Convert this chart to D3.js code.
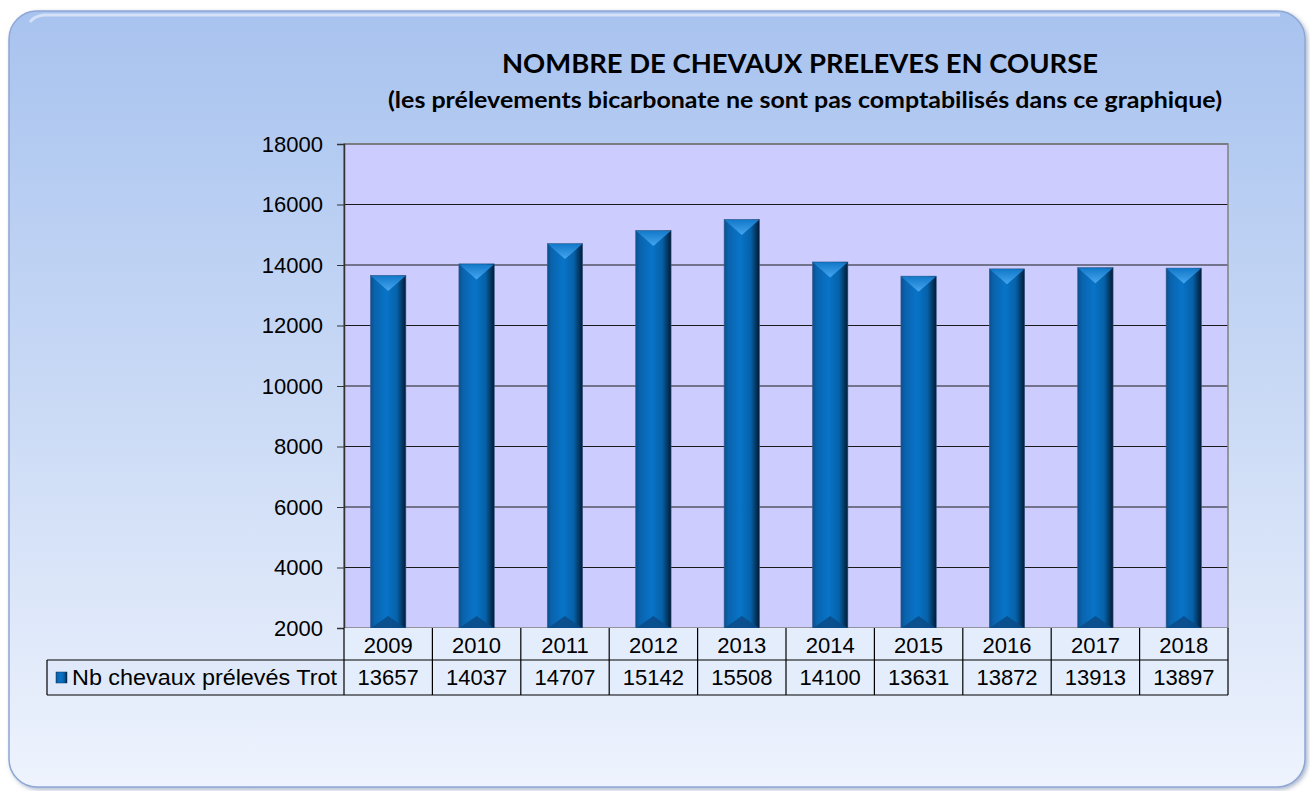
<!DOCTYPE html>
<html>
<head>
<meta charset="utf-8">
<script src="https://cdn.jsdelivr.net/npm/d3@7"></script>
<style>
  body { margin: 0; background: #fff; }
</style>
</head>
<body>
<svg id="chart"></svg>
<script>
var years = ['2009', '2010', '2011', '2012', '2013', '2014', '2015', '2016', '2017', '2018'];
var values = [13657, 14037, 14707, 15142, 15508, 14100, 13631, 13872, 13913, 13897];
var yTicks = [2000, 4000, 6000, 8000, 10000, 12000, 14000, 16000, 18000];
var seriesName = 'Nb chevaux prélevés Trot';

var W = 1310, H = 791;
var plot = {left: 344, right: 1228, top: 144, bottom: 628};
var font = 'Liberation Sans, Arial, sans-serif';

var svg = d3.select('#chart').attr('width', W).attr('height', H);
var defs = svg.append('defs');

// panel gradient
var pg = defs.append('linearGradient').attr('id', 'panel').attr('x1', 0).attr('y1', 0).attr('x2', 0).attr('y2', 1);
pg.append('stop').attr('offset', '0%').attr('stop-color', '#a8c3ef');
pg.append('stop').attr('offset', '55%').attr('stop-color', '#cddcf6');
pg.append('stop').attr('offset', '100%').attr('stop-color', '#eef3fd');

// bar gradient (cylinder-ish)
var bg = defs.append('linearGradient').attr('id', 'bar').attr('x1', 0).attr('y1', 0).attr('x2', 1).attr('y2', 0);
bg.append('stop').attr('offset', '0%').attr('stop-color', '#0b4f8c');
bg.append('stop').attr('offset', '12%').attr('stop-color', '#0a63ad');
bg.append('stop').attr('offset', '45%').attr('stop-color', '#0874c8');
bg.append('stop').attr('offset', '75%').attr('stop-color', '#0661a8');
bg.append('stop').attr('offset', '100%').attr('stop-color', '#021a33');

var cap = defs.append('linearGradient').attr('id', 'cap').attr('x1', 0).attr('y1', 0).attr('x2', 0).attr('y2', 1);
cap.append('stop').attr('offset', '0%').attr('stop-color', '#1279c9');
cap.append('stop').attr('offset', '100%').attr('stop-color', '#46a6f0');

var sh = defs.append('filter').attr('id', 'shadow').attr('x', '-5%').attr('y', '-5%').attr('width', '110%').attr('height', '110%');
sh.append('feDropShadow').attr('dx', 2).attr('dy', 2).attr('stdDeviation', 2).attr('flood-color', '#5a6f99').attr('flood-opacity', 0.5);

// panel
svg.append('rect')
  .attr('x', 9).attr('y', 11).attr('width', 1296).attr('height', 776)
  .attr('rx', 28).attr('ry', 28)
  .attr('fill', 'url(#panel)')
  .attr('stroke', '#8ea7d6').attr('stroke-width', 1.5)
  .attr('filter', 'url(#shadow)');
svg.append('path')
  .attr('d', 'M30,22 Q34,16 44,15 L1280,15')
  .attr('stroke', '#ffffff').attr('stroke-opacity', 0.5).attr('stroke-width', 3).attr('fill', 'none');

// titles
svg.append('text')
  .attr('x', 800).attr('y', 73)
  .attr('text-anchor', 'middle')
  .attr('font-family', 'Lato, sans-serif').attr('font-weight', 'bold').attr('font-size', 26)
  .attr('textLength', 596).attr('lengthAdjust', 'spacingAndGlyphs')
  .text('NOMBRE DE CHEVAUX PRELEVES EN COURSE');
svg.append('text')
  .attr('x', 805).attr('y', 108)
  .attr('text-anchor', 'middle')
  .attr('font-family', 'Lato, sans-serif').attr('font-weight', 'bold').attr('font-size', 22.5)
  .attr('textLength', 834).attr('lengthAdjust', 'spacingAndGlyphs')
  .text('(les prélevements bicarbonate ne sont pas comptabilisés dans ce graphique)');

var x = d3.scaleBand().domain(years).range([plot.left, plot.right]).paddingInner(0).paddingOuter(0);
var y = d3.scaleLinear().domain([2000, 18000]).range([plot.bottom, plot.top]);

// plot background
svg.append('rect')
  .attr('x', plot.left).attr('y', plot.top)
  .attr('width', plot.right - plot.left).attr('height', plot.bottom - plot.top)
  .attr('fill', '#ccccff');

// gridlines
svg.append('g').selectAll('line')
  .data(yTicks.slice(1))
  .enter().append('line')
    .attr('x1', plot.left).attr('x2', plot.right)
    .attr('y1', function(d) { return y(d); }).attr('y2', function(d) { return y(d); })
    .attr('stroke', '#1a1a1a').attr('stroke-width', 1);

svg.append('rect')
  .attr('x', plot.left).attr('y', plot.top)
  .attr('width', plot.right - plot.left).attr('height', plot.bottom - plot.top)
  .attr('fill', 'none').attr('stroke', '#808080').attr('stroke-width', 1.5);

// bars
var bw = x.bandwidth() * 0.4;
var bars = svg.append('g').selectAll('g')
  .data(values)
  .enter().append('g')
    .attr('transform', function(d, i) { return 'translate(' + (x(years[i]) + (x.bandwidth() - bw) / 2) + ',0)'; });

bars.append('rect')
  .attr('x', 0).attr('y', function(d) { return y(d); })
  .attr('width', bw).attr('height', function(d) { return y(2000) - y(d); })
  .attr('fill', 'url(#bar)')
  .attr('stroke', '#3a5d8a').attr('stroke-width', 0.6);

// top bevel: light triangle pointing down
bars.append('path')
  .attr('d', function(d) {
    var t = y(d) + 0.5;
    return 'M0.5,' + t + 'L' + (bw - 0.5) + ',' + t + 'L' + (bw * 0.5) + ',' + (t + 15) + 'Z';
  })
  .attr('fill', 'url(#cap)');
// bottom bevel
bars.append('path')
  .attr('d', function(d) {
    var b = y(2000);
    return 'M0.5,' + b + 'L' + (bw - 0.5) + ',' + b + 'L' + (bw * 0.5) + ',' + (b - 12) + 'Z';
  })
  .attr('fill', '#0a4a86').attr('opacity', 0.85);

// y axis
var yAxis = svg.append('g')
  .attr('transform', 'translate(' + plot.left + ',0)')
  .call(d3.axisLeft(y).tickValues(yTicks).tickSize(7).tickPadding(14).tickFormat(d3.format('d')));
yAxis.select('.domain').attr('stroke', '#333').attr('stroke-width', 1.5);
yAxis.selectAll('.tick line').attr('stroke', '#333');
yAxis.selectAll('text')
  .attr('font-family', font).attr('font-size', 22).attr('fill', '#000');

// data table
var rowH = [32, 35];
var tTop = plot.bottom;
var legendLeft = 47;
var table = svg.append('g');

// cell backgrounds
table.append('rect')
  .attr('x', plot.left).attr('y', tTop).attr('width', plot.right - plot.left).attr('height', rowH[0] + rowH[1])
  .attr('fill', '#e4edfb');
table.append('rect')
  .attr('x', legendLeft).attr('y', tTop + rowH[0]).attr('width', plot.left - legendLeft).attr('height', rowH[1])
  .attr('fill', '#dfe9fa');

// horizontal lines
table.append('line')
  .attr('x1', legendLeft).attr('x2', plot.right)
  .attr('y1', tTop + rowH[0]).attr('y2', tTop + rowH[0])
  .attr('stroke', '#000').attr('stroke-width', 1.2);
table.append('line')
  .attr('x1', legendLeft).attr('x2', plot.right)
  .attr('y1', tTop + rowH[0] + rowH[1]).attr('y2', tTop + rowH[0] + rowH[1])
  .attr('stroke', '#000').attr('stroke-width', 1.2);
table.append('line')
  .attr('x1', legendLeft).attr('x2', legendLeft)
  .attr('y1', tTop + rowH[0]).attr('y2', tTop + rowH[0] + rowH[1])
  .attr('stroke', '#000').attr('stroke-width', 1.2);
table.append('line')
  .attr('x1', plot.right).attr('x2', plot.right)
  .attr('y1', tTop).attr('y2', tTop + rowH[0] + rowH[1])
  .attr('stroke', '#000').attr('stroke-width', 1.2);

// vertical separators
table.selectAll('line.sep')
  .data(years)
  .enter().append('line')
    .attr('class', 'sep')
    .attr('x1', function(d) { return x(d); }).attr('x2', function(d) { return x(d); })
    .attr('y1', tTop).attr('y2', tTop + rowH[0] + rowH[1])
    .attr('stroke', '#000').attr('stroke-width', 1.2);

table.selectAll('text.year')
  .data(years)
  .enter().append('text')
    .attr('class', 'year')
    .attr('x', function(d) { return x(d) + x.bandwidth() / 2; })
    .attr('y', tTop + rowH[0] / 2 + 1)
    .attr('dy', '0.36em')
    .attr('text-anchor', 'middle')
    .attr('font-family', font).attr('font-size', 22)
    .text(function(d) { return d; });

table.selectAll('text.val')
  .data(values)
  .enter().append('text')
    .attr('class', 'val')
    .attr('x', function(d, i) { return x(years[i]) + x.bandwidth() / 2; })
    .attr('y', tTop + rowH[0] + rowH[1] / 2)
    .attr('dy', '0.36em')
    .attr('text-anchor', 'middle')
    .attr('font-family', font).attr('font-size', 22)
    .text(function(d) { return d; });

// legend key
table.append('rect')
  .attr('x', 56).attr('y', tTop + rowH[0] + 12).attr('width', 11).attr('height', 11)
  .attr('fill', 'url(#bar)').attr('stroke', '#0a3a66').attr('stroke-width', 0.5);
table.append('text')
  .attr('x', 72).attr('y', tTop + rowH[0] + rowH[1] / 2)
  .attr('dy', '0.36em')
  .attr('font-family', font).attr('font-size', 22)
  .attr('textLength', 265).attr('lengthAdjust', 'spacingAndGlyphs')
  .text(seriesName);
</script>
</body>
</html>
